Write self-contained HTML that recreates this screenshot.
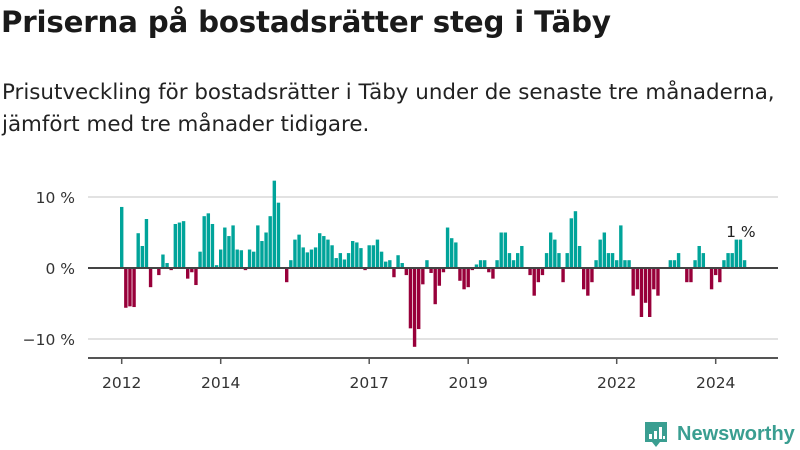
<!DOCTYPE html>
<html><head><meta charset="utf-8">
<style>
body{margin:0;width:800px;height:450px;background:#fff;font-family:"DejaVu Sans","Liberation Sans",sans-serif;overflow:hidden;position:relative}
h1{position:absolute;left:1px;top:5px;margin:0;font-size:29.3px;font-weight:bold;color:#1a1a1a;letter-spacing:-0.2px;white-space:nowrap}
.sub{position:absolute;left:2px;top:77px;margin:0;font-size:21.4px;line-height:32px;color:#222;white-space:nowrap}
svg{position:absolute;left:0;top:0}
</style></head><body>
<h1>Priserna på bostadsrätter steg i Täby</h1>
<p class="sub">Prisutveckling för bostadsrätter i Täby under de senaste tre månaderna,<br>jämfört med tre månader tidigare.</p>
<svg id="chart" width="800" height="450"></svg>
<script>
const values=[8.6,-5.6,-5.4,-5.5,4.9,3.1,6.9,-2.7,0,-1.0,1.9,0.7,-0.3,6.2,6.4,6.6,-1.5,-0.6,-2.4,2.3,7.3,7.7,6.2,0.4,2.6,5.7,4.5,6.0,2.6,2.5,-0.3,2.6,2.3,6.0,3.8,5.0,7.3,12.3,9.2,0,-2.0,1.1,4.0,4.7,2.9,2.2,2.6,2.9,4.9,4.5,4.0,3.2,1.4,2.1,1.2,2.1,3.8,3.6,2.8,-0.3,3.2,3.2,4.0,2.3,0.9,1.1,-1.3,1.8,0.7,-1.0,-8.5,-11.1,-8.6,-2.3,1.1,-0.7,-5.1,-2.5,-0.6,5.7,4.2,3.6,-1.8,-3.0,-2.7,-0.3,0.5,1.1,1.1,-0.6,-1.5,1.1,5.0,5.0,2.1,1.1,2.1,3.1,0,-1.0,-3.9,-2.0,-1.0,2.1,5.0,4.0,2.1,-2.0,2.1,7.0,8.0,3.1,-3.0,-3.9,-2.0,1.1,4.0,5.0,2.1,2.1,1.1,6.0,1.1,1.1,-3.9,-3.0,-6.9,-4.9,-6.9,-3.0,-3.9,0,0,1.1,1.1,2.1,0,-2.0,-2.0,1.1,3.1,2.1,0,-3.0,-1.0,-2.0,1.1,2.1,2.1,4.0,4.0,1.1];
const yTicks=[10,0,-10];
const yTickLabels=["10 %","0 %","−10 %"];
const xTickYears=[2012,2014,2017,2019,2022,2024];
const startYear=2012;
const lastLabel="1 %";
const NS="http://www.w3.org/2000/svg";
const svg=document.getElementById('chart');
function y(v){return 268-v*7.1;}
function x(i){return 120+i*4.125;}
function el(t,a){const e=document.createElementNS(NS,t);for(const k in a)e.setAttribute(k,a[k]);svg.appendChild(e);return e;}
yTicks.forEach((t,k)=>{
  if(t!==0){const g=el('line',{x1:88,x2:778,y1:y(t),y2:y(t),stroke:'#e2e2e2','stroke-width':2});
  
  }
  const l=el('text',{x:75,y:y(t)+6,'text-anchor':'end','font-size':15.5,fill:'#333'});
  l.textContent=yTickLabels[k];
  
  
});
values.forEach((v,i)=>{
  const top=v>=0?y(v):y(0);
  const r=el('rect',{x:x(i),y:top,width:3.4,height:Math.abs(y(v)-y(0)),fill:v>=0?'#00a49a':'#98003a'});
  
  
});
const z=el('line',{x1:88,x2:778,y1:y(0),y2:y(0),stroke:'#444','stroke-width':2});


const ax=el('line',{x1:88,x2:778,y1:358,y2:358,stroke:'#555','stroke-width':2});


xTickYears.forEach(yr=>{
  const cx=x((yr-startYear)*12)+1.7;
  const t=el('line',{x1:cx,x2:cx,y1:358,y2:364,stroke:'#555','stroke-width':1.5});
  
  
  const l=el('text',{x:cx,y:388,'text-anchor':'middle','font-size':15.5,fill:'#333'});
  l.textContent=yr;
  
  
});
const li=values.length-1;
const lab=el('text',{x:x(li)-2,y:y(values[li])-23,'text-anchor':'middle','font-size':15.5,fill:'#222',stroke:'#fff','stroke-width':3,'paint-order':'stroke'});
lab.textContent=lastLabel;


</script>
<svg width="800" height="450" style="position:absolute;left:0;top:0">
<path d="M645,422 h22 v20 h-7 l-4,5 l-4,-5 h-7z" fill="#3a9e91"/>
<rect x="649" y="434" width="3" height="5" fill="#fff"/><rect x="654" y="431" width="3" height="8" fill="#fff"/><rect x="659" y="427" width="3" height="12" fill="#fff"/><rect x="663" y="436" width="2" height="3" fill="#fff"/>
<text x="677" y="440" font-size="20" font-weight="bold" fill="#3a9e91" font-family="Liberation Sans, sans-serif">Newsworthy</text>
</svg>
</body></html>
